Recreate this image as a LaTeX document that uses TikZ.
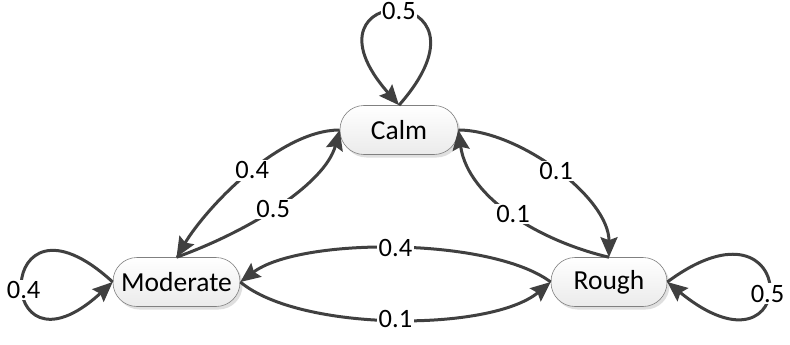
\documentclass[tikz,border=0pt]{standalone}
\usepackage{fontspec}
\setmainfont{Carlito}
\usetikzlibrary{arrows.meta,shadows}
\definecolor{edgecol}{HTML}{404040}
\definecolor{nodeborder}{HTML}{808080}
\tikzset{
  state/.style={draw=nodeborder, line width=0.6pt, rounded corners=24pt,
    top color=white, bottom color=black!8, minimum height=49pt, inner sep=0pt,
    font=\fontsize{27.5}{31}\selectfont,
    drop shadow={shadow xshift=2.5pt, shadow yshift=-3pt, fill=black!25, opacity=0.5}},
  trans/.style={draw=edgecol, line width=3pt, -{Stealth[length=20pt,width=17pt,inset=3pt]}},
  prob/.style={fill=white, inner sep=1.5pt, font=\fontsize{26.5}{30}\selectfont, text=black},
}
\begin{document}
\begin{tikzpicture}[x=1pt,y=-1pt]
\useasboundingbox (0,0) rectangle (790,345);
\node[state, minimum width=118pt] (calm) at (399,130) {Calm};
\node[state, minimum width=127pt] (mod) at (176.5,282) {Moderate};
\node[state, minimum width=116pt] (rough) at (609,282) {Rough};
% self loops
\draw[trans] (calm.north) .. controls +(110,-125) and +(-110,-125) .. (calm.north) node[prob,pos=0.5]{0.5};
\draw[trans] (mod.west) .. controls +(-120,-110) and +(-120,110) .. (mod.west) node[prob,pos=0.55]{0.4};
\draw[trans] (rough.east) .. controls +(135,-100) and +(135,110) .. (rough.east) node[prob,pos=0.55]{0.5};
% calm <-> moderate
\draw[trans] (calm.west) .. controls +(-60,0) and +(30,-50) .. (mod.north) node[prob,pos=0.47]{0.4};
\draw[trans] (mod.north) .. controls +(70,-25) and +(-15,55) .. (calm.west) node[prob,pos=0.47]{0.5};
% calm <-> rough
\draw[trans] (calm.east) .. controls +(60,0) and +(0,-60) .. (rough.north) node[prob,pos=0.5]{0.1};
\draw[trans] (rough.north) .. controls +(-65,-15) and +(10,70) .. (calm.east) node[prob,pos=0.5]{0.1};
% moderate <-> rough
\draw[trans] (rough.west) .. controls +(-60,-45) and +(60,-45) .. (mod.east) node[prob,pos=0.5]{0.4};
\draw[trans] (mod.east) .. controls +(60,50) and +(-60,50) .. (rough.west) node[prob,pos=0.5]{0.1};
\end{tikzpicture}
\end{document}
